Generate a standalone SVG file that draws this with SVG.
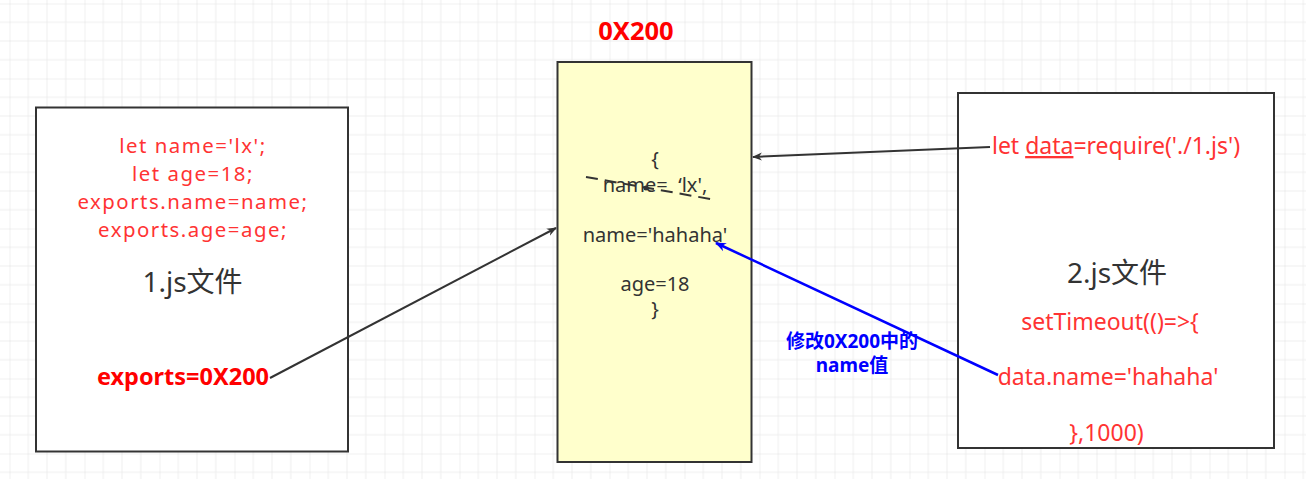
<svg xmlns="http://www.w3.org/2000/svg" width="1306" height="479" viewBox="0 0 1306 479">
<defs>
<pattern id="grid" patternUnits="userSpaceOnUse" x="9.5" y="3.5" width="75" height="75">
<path d="M18.75 0V75M37.5 0V75M56.25 0V75M0 18.75H75M0 37.5H75M0 56.25H75" stroke="#eeeeee" stroke-width="1" fill="none"/>
<path d="M0 0V75M0 0H75" stroke="#e2e2e2" stroke-width="1" fill="none"/>
</pattern>
<marker id="ah" viewBox="0 0 10 10" refX="9" refY="5" markerWidth="10" markerHeight="10" markerUnits="userSpaceOnUse" orient="auto">
<path d="M0 1L10 5L0 9L3 5Z" fill="#333"/>
</marker>
<marker id="ahb" viewBox="0 0 10 10" refX="9" refY="5" markerWidth="11" markerHeight="11" markerUnits="userSpaceOnUse" orient="auto">
<path d="M0 1L10 5L0 9L3 5Z" fill="#0000ff"/>
</marker>
</defs>
<style>
.box{stroke:#333;stroke-width:2;}
.code{font-family:"Noto Sans","Noto Sans CJK SC",sans-serif;font-size:23px;fill:#ff3333;text-anchor:middle;}
.tight{font-size:20.4px;letter-spacing:1.5px;}
.title{font-family:"Noto Sans","Noto Sans CJK SC",sans-serif;font-size:28px;fill:#333;text-anchor:middle;}
.mem{font-family:"Noto Sans","Noto Sans CJK SC",sans-serif;font-size:20px;fill:#333;text-anchor:middle;}
.bold{font-family:"Noto Sans","Noto Sans CJK SC",sans-serif;font-weight:bold;fill:#ff0000;text-anchor:middle;}
.lbl{font-family:"Noto Sans","Noto Sans CJK SC",sans-serif;font-weight:bold;font-size:19px;fill:#0000ff;text-anchor:middle;}
.conn{stroke:#333;stroke-width:2;fill:none;}
</style>
<rect width="1306" height="479" fill="#ffffff"/>
<rect width="1306" height="479" fill="url(#grid)"/>

<g id="file1">
<rect class="box" x="36" y="107.5" width="312" height="344" fill="#ffffff"/>
<text class="code tight" x="193" y="153">let name='lx';</text>
<text class="code tight" x="193" y="181">let age=18;</text>
<text class="code tight" x="193" y="209">exports.name=name;</text>
<text class="code tight" x="193" y="237">exports.age=age;</text>
<text class="title" x="192.5" y="292">1.js文件</text>
<text class="bold" x="183" y="385" font-size="23.5">exports=0X200</text>
</g>

<g id="memory">
<text class="bold" x="636" y="40" font-size="25.5">0X200</text>
<rect class="box" x="557.5" y="62" width="194" height="400" fill="#ffffcc"/>
<text class="mem" x="655" y="166">{</text>
<text class="mem" x="655" y="192" xml:space="preserve">name=  ‘lx',</text>
<line x1="586" y1="177" x2="716" y2="200" stroke="#333" stroke-width="2" stroke-dasharray="12,7"/>
<circle cx="646" cy="188" r="2.5" fill="#333"/>
<text class="mem" x="655" y="242">name='hahaha'</text>
<text class="mem" x="655" y="291">age=18</text>
<text class="mem" x="655" y="316">}</text>
</g>

<g id="file2">
<rect class="box" x="958" y="93" width="316" height="355" fill="#ffffff"/>
<text class="code" x="1116" y="154">let <tspan text-decoration="underline">data</tspan>=require('./1.js')</text>
<text class="title" x="1117" y="283">2.js文件</text>
<text class="code" x="1110" y="330">setTimeout(()=&gt;{</text>
<text class="code" x="1108" y="385">data.name='hahaha'</text>
<text class="code" x="1106.5" y="441">},1000)</text>
</g>

<g id="connectors">
<line class="conn" x1="270" y1="378" x2="556" y2="228" marker-end="url(#ah)"/>
<line class="conn" x1="990" y1="147" x2="753" y2="157" marker-end="url(#ah)"/>
<line x1="998" y1="375" x2="716" y2="243" stroke="#0000ff" stroke-width="2.5" marker-end="url(#ahb)"/>
<text class="lbl" x="852" y="348">修改0X200中的</text>
<text class="lbl" x="852" y="372">name值</text>
</g>
</svg>
